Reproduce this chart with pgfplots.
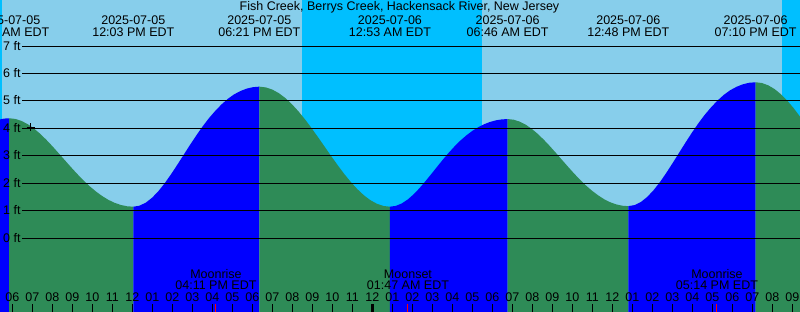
\documentclass[border=0pt]{standalone}
\usepackage{fontspec}
\setmainfont{Liberation Sans}
\usepackage{pgfplots}
\pgfplotsset{compat=1.18}
\definecolor{dayc}{RGB}{135,206,235}
\definecolor{nightc}{RGB}{0,191,255}
\definecolor{ebbc}{RGB}{46,139,87}
\definecolor{floodc}{RGB}{0,0,255}
\newcommand{\lbl}{\fontsize{12.5bp}{14bp}\selectfont}
\begin{document}
\begin{tikzpicture}[font=\lbl]
\begin{axis}[
 width=800bp, height=312bp, scale only axis,
 xmin=5.385, xmax=45.385, ymin=-2.683, ymax=8.675,
 axis line style={draw=none},
 axis on top,
 xtick={6,...,45},
 xticklabels={06,07,08,09,10,11,12,01,02,03,04,05,06,07,08,09,10,11,12,01,02,03,04,05,06,07,08,09,10,11,12,01,02,03,04,05,06,07,08,09},
 xtick pos=bottom,
 ytick=\empty,
 tick align=inside,
 major tick length=8bp,
 x tick style={black, line width=1bp},
 xticklabel style={anchor=base, yshift=10.3bp, inner sep=0pt, font=\lbl, text=black},
 clip=true,
]
% day / night background
\addplot[draw=none, fill=dayc] coordinates {(5,-3) (5,9) (46,9) (46,-3)} -- cycle;
\addplot[draw=none, fill=nightc] coordinates {(5,-3) (5,9) (5.485,9) (5.485,-3)} -- cycle;
\addplot[draw=none, fill=nightc] coordinates {(20.485,-3) (20.485,9) (29.485,9) (29.485,-3)} -- cycle;
\addplot[draw=none, fill=nightc] coordinates {(44.485,-3) (44.485,9) (46,9) (46,-3)} -- cycle;
% tide: rising (blue) and falling (green)
\addplot[draw=none, fill=floodc] coordinates {(5.0,4.22) (5.2,4.29) (5.385,4.327) (5.6,4.358) (5.835,4.37) (5.835,-3) (5.0,-3)} -- cycle;
\addplot[draw=none, fill=ebbc] coordinates {(5.835,4.370) (6.146,4.346) (6.457,4.273) (6.767,4.156) (7.078,3.999) (7.389,3.807) (7.700,3.587) (8.010,3.348) (8.321,3.095) (8.632,2.838) (8.943,2.583) (9.253,2.337) (9.564,2.105) (9.875,1.891) (10.186,1.702) (10.496,1.537) (10.807,1.398) (11.118,1.291) (11.429,1.213) (11.739,1.166) (12.05,1.150) (12.05,-3) (5.835,-3)} -- cycle;
\addplot[draw=none, fill=floodc] coordinates {(12.05,1.150) (12.365,1.188) (12.68,1.300) (12.995,1.480) (13.31,1.720) (13.625,2.007) (13.94,2.334) (14.255,2.682) (14.57,3.041) (14.885,3.399) (15.2,3.745) (15.515,4.071) (15.83,4.371) (16.145,4.636) (16.46,4.873) (16.775,5.075) (17.09,5.239) (17.405,5.360) (17.72,5.449) (18.035,5.502) (18.35,5.520) (18.35,-3) (12.05,-3)} -- cycle;
\addplot[draw=none, fill=ebbc] coordinates {(18.35,5.520) (18.677,5.493) (19.003,5.413) (19.33,5.282) (19.657,5.103) (19.983,4.880) (20.31,4.619) (20.637,4.327) (20.963,4.010) (21.29,3.677) (21.617,3.335) (21.943,2.993) (22.27,2.660) (22.597,2.343) (22.923,2.051) (23.25,1.790) (23.577,1.567) (23.903,1.388) (24.23,1.257) (24.557,1.177) (24.883,1.150) (24.883,-3) (18.35,-3)} -- cycle;
\addplot[draw=none, fill=floodc] coordinates {(24.883,1.150) (25.177,1.180) (25.471,1.268) (25.766,1.409) (26.060,1.596) (26.354,1.820) (26.648,2.070) (26.943,2.333) (27.237,2.602) (27.531,2.866) (27.825,3.117) (28.119,3.351) (28.413,3.563) (28.708,3.749) (29.002,3.910) (29.296,4.044) (29.590,4.152) (29.884,4.235) (30.179,4.294) (30.473,4.329) (30.767,4.340) (30.767,-3) (24.883,-3)} -- cycle;
\addplot[draw=none, fill=ebbc] coordinates {(30.767,4.340) (31.069,4.317) (31.370,4.247) (31.672,4.135) (31.974,3.984) (32.275,3.799) (32.577,3.586) (32.879,3.354) (33.180,3.108) (33.482,2.856) (33.784,2.606) (34.085,2.362) (34.387,2.132) (34.688,1.919) (34.990,1.729) (35.292,1.563) (35.593,1.423) (35.895,1.313) (36.197,1.234) (36.498,1.186) (36.8,1.170) (36.8,-3) (30.767,-3)} -- cycle;
\addplot[draw=none, fill=floodc] coordinates {(36.8,1.170) (37.118,1.209) (37.437,1.325) (37.755,1.511) (38.073,1.759) (38.392,2.055) (38.710,2.392) (39.028,2.751) (39.347,3.122) (39.665,3.491) (39.984,3.848) (40.302,4.184) (40.620,4.494) (40.939,4.768) (41.257,5.012) (41.575,5.221) (41.894,5.390) (42.212,5.515) (42.530,5.607) (42.849,5.662) (43.167,5.680) (43.167,-3) (36.8,-3)} -- cycle;
\addplot[draw=none, fill=ebbc] coordinates {(43.167,5.680) (43.482,5.652) (43.797,5.569) (44.112,5.433) (44.427,5.247) (44.742,5.017) (45.057,4.746) (45.372,4.443) (45.687,4.115) (45.687,-3) (43.167,-3)} -- cycle;
% level lines
\pgfplotsinvokeforeach{0,...,7}{\addplot[black, line width=1bp] coordinates {(6.485,#1) (46,#1)};}
% current-time cross
\addplot[draw=black, only marks, mark=+, mark size=4bp, mark options={draw=black, line width=1bp}] coordinates {(6.92,4.04)};
% midnight and moon ticks
\addplot[black, line width=2.5bp] coordinates {(24,-2.392) (24,-3)};
\addplot[red, line width=1bp] coordinates {(16.183,-2.392) (16.183,-3)};
\addplot[red, line width=1bp] coordinates {(25.783,-2.392) (25.783,-3)};
\addplot[red, line width=1bp] coordinates {(41.233,-2.392) (41.233,-3)};
% level labels
\node[anchor=base west, inner sep=0pt] at (axis cs:5.535,-0.146) {0 ft};
\node[anchor=base west, inner sep=0pt] at (axis cs:5.535,0.854) {1 ft};
\node[anchor=base west, inner sep=0pt] at (axis cs:5.535,1.854) {2 ft};
\node[anchor=base west, inner sep=0pt] at (axis cs:5.535,2.854) {3 ft};
\node[anchor=base west, inner sep=0pt] at (axis cs:5.535,3.854) {4 ft};
\node[anchor=base west, inner sep=0pt] at (axis cs:5.535,4.854) {5 ft};
\node[anchor=base west, inner sep=0pt] at (axis cs:5.535,5.854) {6 ft};
\node[anchor=base west, inner sep=0pt] at (axis cs:5.535,6.854) {7 ft};
% title
\node[anchor=base, inner sep=0pt] at (axis cs:25.36,8.275) {Fish Creek, Berrys Creek, Hackensack River, New Jersey};
% tide event labels
\node[anchor=base, inner sep=0pt] at (axis cs:5.8,7.79) {2025-07-05};
\node[anchor=base, inner sep=0pt] at (axis cs:5.8,7.364) {05:50 AM EDT};
\node[anchor=base, inner sep=0pt] at (axis cs:12.05,7.79) {2025-07-05};
\node[anchor=base, inner sep=0pt] at (axis cs:12.05,7.364) {12:03 PM EDT};
\node[anchor=base, inner sep=0pt] at (axis cs:18.35,7.79) {2025-07-05};
\node[anchor=base, inner sep=0pt] at (axis cs:18.35,7.364) {06:21 PM EDT};
\node[anchor=base, inner sep=0pt] at (axis cs:24.883,7.79) {2025-07-06};
\node[anchor=base, inner sep=0pt] at (axis cs:24.883,7.364) {12:53 AM EDT};
\node[anchor=base, inner sep=0pt] at (axis cs:30.767,7.79) {2025-07-06};
\node[anchor=base, inner sep=0pt] at (axis cs:30.767,7.364) {06:46 AM EDT};
\node[anchor=base, inner sep=0pt] at (axis cs:36.8,7.79) {2025-07-06};
\node[anchor=base, inner sep=0pt] at (axis cs:36.8,7.364) {12:48 PM EDT};
\node[anchor=base, inner sep=0pt] at (axis cs:43.167,7.79) {2025-07-06};
\node[anchor=base, inner sep=0pt] at (axis cs:43.167,7.364) {07:10 PM EDT};
% moon labels
\node[anchor=base, inner sep=0pt] at (axis cs:16.183,-1.456) {Moonrise};
\node[anchor=base, inner sep=0pt] at (axis cs:16.183,-1.882) {04:11 PM EDT};
\node[anchor=base, inner sep=0pt] at (axis cs:25.783,-1.456) {Moonset};
\node[anchor=base, inner sep=0pt] at (axis cs:25.783,-1.882) {01:47 AM EDT};
\node[anchor=base, inner sep=0pt] at (axis cs:41.233,-1.456) {Moonrise};
\node[anchor=base, inner sep=0pt] at (axis cs:41.233,-1.882) {05:14 PM EDT};
\end{axis}
\pgfresetboundingbox
\useasboundingbox (current axis.south west) rectangle (current axis.north east);
\end{tikzpicture}
\end{document}
